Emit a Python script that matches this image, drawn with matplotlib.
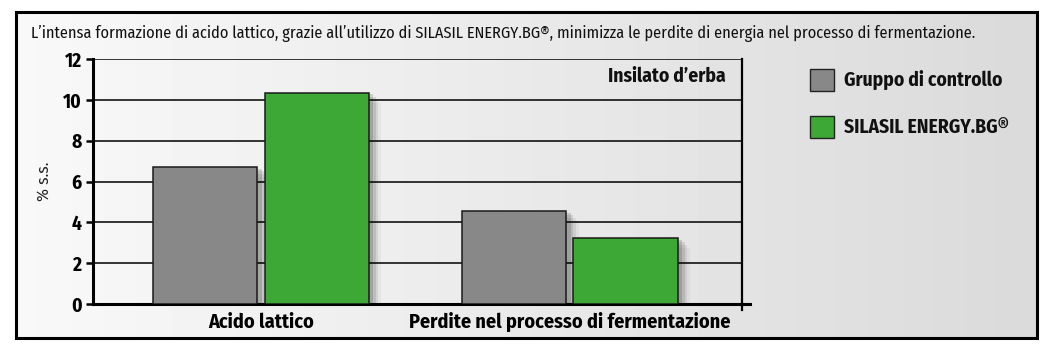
import numpy as np
import matplotlib.pyplot as plt
import matplotlib.patheffects as pe
from matplotlib.patches import Rectangle

categories = ["Acido lattico", "Perdite nel processo di fermentazione"]
controllo = [6.7, 4.54]
silasil = [10.33, 3.22]
series_names = ["Gruppo di controllo", "SILASIL ENERGY.BG®"]
yticks = [0, 2, 4, 6, 8, 10, 12]

title = ("L\u2019intensa formazione di acido lattico, grazie all\u2019utilizzo di "
         "SILASIL ENERGY.BG®, minimizza le perdite di energia nel processo di fermentazione.")

GRAY = "#888888"
GREEN = "#3ea836"

plt.rcParams['font.family'] = ['Fira Sans Condensed', 'Liberation Sans Narrow',
                               'DejaVu Sans Condensed', 'DejaVu Sans']

W, H = 1058, 356
fig = plt.figure(figsize=(W / 100, H / 100), dpi=100)

# gradient background inside frame
bg = fig.add_axes([0, 0, 1, 1], zorder=-5)
bg.set_xlim(0, W)
bg.set_ylim(H, 0)
bg.axis("off")
grad = np.linspace(0.975, 0.855, 256).reshape(1, -1)
bg.imshow(grad, cmap="gray", vmin=0, vmax=1, extent=[16, 1037, 338, 12], aspect="auto")
bg.add_patch(Rectangle((16, 12), 1021, 326, fill=False, ec="black", lw=2.2))
bg.text(31, 33, title, fontsize=11.75, va="center", ha="left", color="#111111")

# legend
for i, (name, col) in enumerate(zip(series_names, [GRAY, GREEN])):
    y0 = 69 + i * 47
    bg.add_patch(Rectangle((810, y0), 24, 22, fc=col, ec="#222222", lw=1))
    bg.text(844, y0 + 11, name, fontsize=14, fontweight="bold", va="center", ha="left",
            color="#111111")

# main axes
ax = fig.add_axes([93 / W, 1 - 304 / H, (742 - 93) / W, (304 - 59) / H])
ax.patch.set_alpha(0)
x = np.arange(len(categories))
off = 0.18
bw = 0.337
shadow = [pe.SimplePatchShadow(offset=(d, -d + 2), shadow_rgbFace="black", alpha=a)
          for d, a in [(9, 0.04), (7, 0.07), (5, 0.1), (3, 0.14)]] + [pe.Normal()]
b1 = ax.bar(x - off, controllo, bw, color=GRAY, edgecolor="#1a1a1a", lw=1.1, zorder=3)
b2 = ax.bar(x + off, silasil, bw, color=GREEN, edgecolor="#1a1a1a", lw=1.1, zorder=3)
for b in list(b1) + list(b2):
    b.set_path_effects(shadow)

ax.set_xlim(-0.544, 0.557 + 1)
ax.set_ylim(0, 12)
ax.set_yticks(yticks)
ax.set_yticklabels([str(v) for v in yticks], fontsize=14, fontweight="bold")
ax.set_xticks(x)
ax.set_xticklabels(categories, fontsize=14.5, fontweight="bold")
ax.tick_params(axis="x", length=0, pad=6)
ax.tick_params(axis="y", length=5, width=1.8, direction="out", pad=3)
ax.yaxis.grid(True, color="black", lw=1.1)
ax.set_axisbelow(True)
ax.spines["top"].set_visible(False)
ax.spines["left"].set_linewidth(2.2)
ax.spines["bottom"].set_linewidth(2.2)
ax.spines["right"].set_linewidth(1.6)
# small overshoot of the axis lines at the bottom-right corner
ax.plot([1, 1.012], [0, 0], transform=ax.transAxes, color="black", lw=2.2, clip_on=False)
ax.plot([1, 1], [0, -0.025], transform=ax.transAxes, color="black", lw=1.6, clip_on=False)
ax.set_ylabel("% s.s.", fontsize=12.5, labelpad=8, color="#222222")

ax.text(0.975, 0.93, "Insilato d\u2019erba", transform=ax.transAxes, fontsize=14,
        fontweight="bold", ha="right", va="center", color="#111111")

fig.savefig("out.png", dpi=100)
